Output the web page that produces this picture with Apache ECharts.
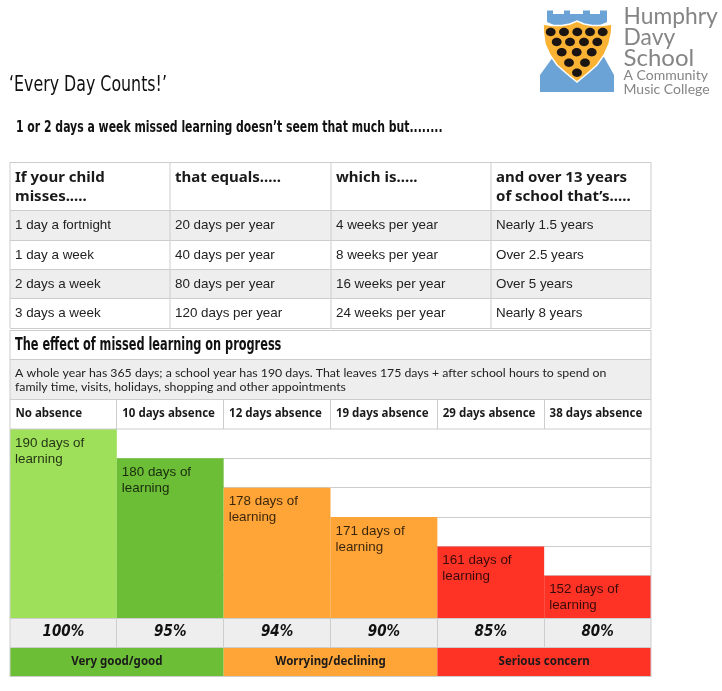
<!DOCTYPE html>
<html><head><meta charset="utf-8">
<style>html,body{margin:0;padding:0;background:#fff}#c{width:722px;height:691px}</style>
<script src="https://cdn.jsdelivr.net/npm/echarts@6/dist/echarts.min.js"></script>
</head><body><div id="c"></div>
<script>
// ---- data ----
const absenceLabels = ['No absence','10 days absence','12 days absence','19 days absence','29 days absence','38 days absence'];
const daysOfLearning = [190,180,178,171,161,152];
const stepLevels = [6.45,5.45,4.45,3.45,2.45,1.45];
const attendance = ['100%','95%','94%','90%','85%','80%'];
const ratingBands = ['Very good/good','Worrying/declining','Serious concern'];
const tableHeaders = ['If your child\nmisses.....','that equals.....','which is.....','and over 13 years\nof school that\u2019s.....'];
const missedPerFortnight = ['1 day a fortnight','1 day a week','2 days a week','3 days a week'];
const daysPerYear = ['20 days per year','40 days per year','80 days per year','120 days per year'];
const weeksPerYear = ['4 weeks per year','8 weeks per year','16 weeks per year','24 weeks per year'];
const overSchool = ['Nearly 1.5 years','Over 2.5 years','Over 5 years','Nearly 8 years'];
const gridValues = [1.45,2.45,3.45,4.45,5.45];

// ---- styles ----
const C = {line:'#cdcdcd', gray:'#eeeeee', lg:'#9ee05a', g:'#6dbe37', o:'#ffa436', r:'#ff3226', blue:'#6ba3d6', gold:'#f9b233', logoText:'#858585'};
const barColors = [C.lg,C.g,C.o,C.o,C.r,C.r];
const bandColors = [C.g,C.o,C.r];
const BODY = '"Liberation Sans"', HEAD = '"Noto Sans"', HAND = '"DejaVu Sans Condensed"', LOGO = 'Lato';
const L = 10, R = 651;
const gfx = [];
const rect = (x,y,w,h,fill)=>gfx.push({type:'rect',z:-5,silent:true,shape:{x,y,width:w,height:h},style:{fill}});
const hl = (x1,x2,y)=>gfx.push({type:'line',z:6,silent:true,shape:{x1,y1:y,x2,y2:y},style:{stroke:C.line,lineWidth:1}});
const vl = (x,y1,y2)=>gfx.push({type:'line',z:6,silent:true,shape:{x1:x,y1,x2:x,y2},style:{stroke:C.line,lineWidth:1}});
const txt = (x,y,text,font,fill='#1a1a1a',align='left',lh,scaleX=1)=>gfx.push({type:'text',z:7,silent:true,x,y,scaleX,style:{text,font,fill,align,verticalAlign:'middle',lineHeight:lh}});

// titles
txt(9,85,'\u2018Every Day Counts!\u2019','22px '+HAND,'#111','left',undefined,.8);
txt(16,128,'1 or 2 days a week missed learning doesn\u2019t seem that much but........','bold 16.5px '+HAND,'#111','left',undefined,.733);

// upper table
const colX = [10,170,331,491,651];
const rowY = [162,210,240,269,298,328];
[1,3].forEach(i=>rect(L,rowY[i],R-L,rowY[i+1]-rowY[i],C.gray));
rowY.forEach(y=>hl(L,R,y+.5));
colX.forEach(x=>vl(x,162,328));
tableHeaders.forEach((t,i)=>txt(colX[i]+5,t.includes('\n')?187.5:178,t,'bold 15px '+HEAD,'#1a1a1a','left',19));
[missedPerFortnight,daysPerYear,weeksPerYear,overSchool].forEach((col,c)=>col.forEach((t,r)=>
  txt(colX[c]+5,(rowY[r+1]+rowY[r+2])/2+.5,t,'13.4px '+BODY,'#222')));

// middle rows
hl(L,R,330.5);hl(L,R,359.5);hl(L,R,399.5);hl(L,R,429);
vl(10,330,677);vl(651,330,677);
rect(L,359,R-L,40,C.gray);
txt(15,345.5,'The effect of missed learning on progress','bold 17px '+HAND,'#111','left',undefined,.74);
txt(15,380,'A whole year has 365 days; a school year has 190 days. That leaves 175 days + after school hours to spend on\nfamily time, visits, holidays, shopping and other appointments','12.3px Lato','#222','left',14);

// bottom rows
const chartW = (R-L)/6;
rect(L,618,R-L,29,C.gray);
ratingBands.forEach((t,i)=>{
  const x = L+i*2*chartW;
  rect(x,647,2*chartW,29.5,bandColors[i]);
  txt(x+chartW,661.5,t,'bold 11.5px '+HEAD,'#1a1a1a','center');
});
for(let i=1;i<6;i++){ const x=Math.floor(L+i*chartW)+.5; vl(x,399,429);vl(x,618,647); }
hl(L,R,618.5);hl(L,R,647.5);hl(L,R,676.5);

// logo
gfx.push({type:'polygon',z:1,silent:true,shape:{points:[[547,22],[547,10.5],[553,10.5],[553,14],[564,14],[564,10.5],[570,10.5],[570,14],[583,14],[583,10.5],[590,10.5],[590,14],[600,14],[600,10.5],[607,10.5],[607,22],[600,25],[554,25]]},style:{fill:C.blue}});
gfx.push({type:'polygon',z:1,silent:true,shape:{points:[[540,92],[540,75],[553,57],[604,57],[614,75],[614,92]]},style:{fill:C.blue}});
gfx.push({type:'polygon',z:2,silent:true,shape:{points:[[543,24],[552,25.5],[562,25.5],[570,24],[577,21],[584,24],[592,25.5],[602,25.5],[612,24],[611.5,33],[609,44],[604,55],[597,65],[588,73],[577,82],[566,73],[557,65],[550,55],[545,44],[543.5,33]]},style:{fill:C.gold,stroke:'#fff',lineWidth:1.5}});
[[550.7,32],[564,32],[577.3,32],[590,32],[602.7,32],[556.7,42],[570,42],[584,42],[597.3,42],[561.7,52.3],[576.7,52.3],[591.7,52.3],[569,62.7],[585,62.7],[577,72.7]].forEach(([cx,cy])=>
  gfx.push({type:'ellipse',z:3,silent:true,shape:{cx,cy,rx:4.9,ry:4.2},style:{fill:'#1a1512'}}));
[['Humphry',16,24,.95],['Davy',37,24,.95],['School',58,24,1],['A Community',75,14,1],['Music College',89.5,14,1]].forEach(([t,y,s,k])=>
  txt(623.5,y,t,s+'px '+LOGO,C.logoText,'left',undefined,k));

const chart = echarts.init(document.getElementById('c'),null,{renderer:'canvas'});
chart.setOption({
  animation:false,
  backgroundColor:'#fff',
  graphic:{elements:gfx},
  grid:{left:L,right:722-R,top:429,bottom:691-618.3,containLabel:false},
  xAxis:[
    {type:'category',data:attendance,position:'bottom',axisLine:{show:false},axisTick:{show:false},
     axisLabel:{interval:0,margin:6,fontFamily:HAND,fontWeight:'bold',fontStyle:'italic',fontSize:15,color:'#111'}},
    {type:'category',data:absenceLabels,position:'top',axisLine:{show:false},axisTick:{show:false},
     axisLabel:{interval:0,margin:9,formatter:v=>'{a|'+v+'}',rich:{a:{width:96,align:'left',fontFamily:HEAD,fontWeight:'bold',fontSize:11.5,color:'#1a1a1a'}}}}
  ],
  yAxis:{type:'value',min:0,max:6.45,show:true,axisLine:{show:false},
    axisTick:{show:false,customValues:gridValues},
    axisLabel:{show:false,customValues:gridValues},
    splitLine:{show:true,lineStyle:{color:C.line,width:1}}},
  series:[{
    type:'bar',barWidth:'100%',barGap:0,silent:true,
    data:stepLevels.map((v,i)=>({value:v,days:daysOfLearning[i],itemStyle:{color:barColors[i]}})),
    label:{show:true,position:'insideTopLeft',distance:5,
      formatter:p=>p.data.days+' days of\nlearning',
      fontFamily:BODY,fontSize:13.4,lineHeight:16,color:'rgba(0,0,0,0.78)',padding:[1,0,0,0]}
  }]
});
</script></body></html>
